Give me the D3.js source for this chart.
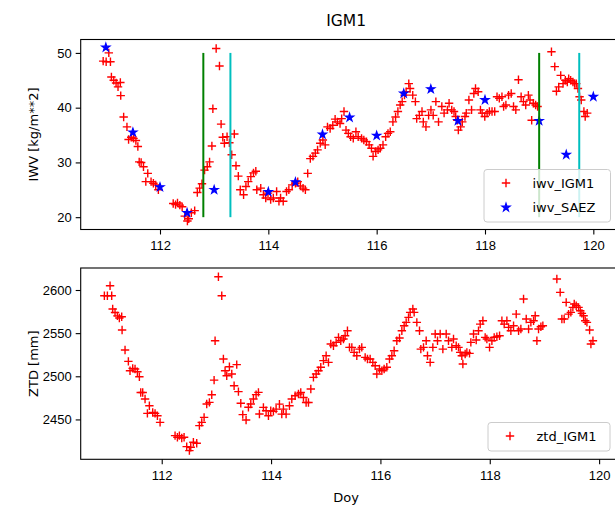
<!DOCTYPE html>
<html>
<head>
<meta charset="utf-8">
<script src="https://cdn.jsdelivr.net/npm/d3@7"></script>
<style>
  body { margin: 0; background: #fff; }
  svg { display: block; font-family: "DejaVu Sans", sans-serif; }
  .axis text { font-size: 13px; fill: #000; }
  .axis line { stroke: #000; stroke-width: 1.1; }
  .axis path { display: none; }
</style>
</head>
<body>
<div id="chart"></div>
<script>
/* DATA */
// IGM1 GNSS station: day of year, zenith total delay [mm], water vapour [kg/m**2]
const doyIGM = [
  110.951, 111.006, 111.055, 111.085, 111.103, 111.146, 111.189, 111.225, 111.268, 111.275,
  111.329, 111.39, 111.42, 111.469, 111.512, 111.555, 111.591, 111.616, 111.652, 111.695,
  111.738, 111.774, 111.835, 111.878, 111.921, 111.97,
  112.244, 112.287, 112.323, 112.366, 112.409, 112.457, 112.506, 112.531, 112.579, 112.64,
  112.689, 112.732, 112.775, 112.823, 112.872, 112.915, 112.958, 112.976, 113.037, 113.098,
  113.128, 113.159, 113.189, 113.238, 113.281, 113.324, 113.372, 113.403, 113.446, 113.482,
  113.543, 113.586, 113.629, 113.677, 113.726, 113.769, 113.787,
  113.86, 113.909, 113.952, 113.994, 114.043, 114.092, 114.153, 114.196, 114.226, 114.275,
  114.336, 114.379, 114.44, 114.501, 114.543, 114.592, 114.641, 114.684, 114.727, 114.775,
  114.824, 114.867, 114.909, 114.958, 115.007, 115.05, 115.092, 115.141, 115.19, 115.233,
  115.275, 115.324, 115.354, 115.397, 115.434, 115.477, 115.519, 115.568, 115.617, 115.659,
  115.721, 115.763, 115.812, 115.861, 115.904, 115.934, 115.983, 116.026, 116.068, 116.117,
  116.166, 116.209, 116.251, 116.3, 116.349, 116.392, 116.434, 116.471, 116.514, 116.544,
  116.593, 116.617, 116.666, 116.715, 116.739, 116.788, 116.837, 116.861, 116.91, 116.959,
  117.002, 117.044, 117.093, 117.142, 117.203, 117.245,
  117.306, 117.337, 117.386, 117.428, 117.459, 117.489, 117.508, 117.55, 117.581, 117.63,
  117.654, 117.703, 117.752, 117.794, 117.825, 117.874, 117.916, 117.947, 117.996, 118.039,
  118.081, 118.13, 118.179, 118.222, 118.264, 118.313, 118.344, 118.386, 118.435, 118.484,
  118.527, 118.569, 118.618, 118.667, 118.71, 118.752, 118.801, 118.831, 118.862, 118.892,
  118.935, 118.971,
  119.227, 119.288, 119.319, 119.361, 119.398, 119.441, 119.483, 119.52, 119.545, 119.581,
  119.624, 119.655, 119.685, 119.716, 119.746, 119.777, 119.826, 119.85, 119.887
];
const ztdIGM = [
  2593.4, 2593.4, 2605, 2593.4, 2578, 2574, 2570, 2567.5, 2569, 2553.6,
  2530.4, 2517.3, 2506.5, 2509.2, 2508.4, 2505.3, 2499.5, 2481.3, 2481.3, 2473.6,
  2457, 2465.8, 2458.1, 2457, 2454.3, 2446.6,
  2431.2, 2429.3, 2431.2, 2428.5, 2429.3, 2418.5, 2413.9, 2417.7, 2423.5, 2422.4,
  2442.8, 2446.6, 2452.4, 2467.9, 2469.8, 2478.6, 2495.6, 2541.2, 2615.4, 2593.4,
  2520, 2506.5, 2500.7, 2511.1, 2502.7, 2489.1, 2513.5, 2482.2, 2468.7, 2455.6,
  2449.4, 2464.1, 2467.9, 2473.7, 2478.7, 2481.4, 2456.3,
  2464, 2460.1, 2454.3, 2460.1, 2459.3, 2462, 2467.8, 2456.2, 2462, 2456.2,
  2465.9, 2473.6, 2477.5, 2479.4, 2481.3, 2475.5, 2469.7, 2469.7, 2485.2, 2498.7,
  2502.6, 2506.5, 2510.4, 2518.1, 2523.8, 2516.1, 2537.4, 2535.4, 2539.3, 2545.1,
  2541.2, 2543.2, 2547, 2552.8, 2533.5, 2533.5, 2527.7, 2523.8, 2531.5, 2533.5,
  2521.9, 2520, 2520, 2516.1, 2512.3, 2502.6, 2508.4, 2506.5, 2508.4, 2510.4,
  2520, 2523.8, 2529.6, 2541.2, 2544.3, 2552.8, 2558.6, 2562.5, 2568.3, 2574.1,
  2577.9, 2574.1, 2562.5, 2552.8, 2531.5, 2533.5, 2541.2, 2523.8, 2516.1, 2533.5,
  2549, 2541.2, 2549, 2531.5, 2549, 2541.2,
  2533.5, 2543.2, 2535.4, 2533.5, 2527.7, 2523.8, 2514.2, 2525.8, 2527.7, 2526.5,
  2539.3, 2549, 2542, 2552.8, 2560.5, 2564.4, 2545.1, 2543.2, 2533.5, 2541.2,
  2545.1, 2545.9, 2547, 2564.4, 2560.5, 2564.4, 2556.7, 2552.8, 2558.6, 2572.1,
  2552.8, 2554.8, 2589.6, 2566.4, 2554.8, 2562.5, 2564.4, 2570.2, 2541.2, 2554.8,
  2557.5, 2558.6,
  2612.7, 2597.2, 2566.4, 2566.4, 2585.7, 2572.1, 2574.1, 2579.9, 2583.7, 2581.8,
  2579.9, 2576, 2572.9, 2570.2, 2564.4, 2562.5, 2553.6, 2537.4, 2541.2
];
const iwvIGM = [
  48.5, 48.4, 50.0, 48.4, 45.6, 45.0, 44.5, 43.8, 44.6, 42.2,
  38.3, 36.5, 34.2, 34.6, 34.4, 34.0, 32.9, 30.1, 30.0, 29.2,
  26.5, 28.0, 26.5, 26.2, 25.9, 25.0,
  22.5, 22.3, 22.6, 22.2, 21.9, 20.2, 19.3, 19.7, 20.8, 21.2,
  24.5, 25.3, 26.1, 28.6, 29.2, 30.1, 33.0, 39.8, 50.8, 47.6,
  37.0, 34.6, 33.5, 34.7, 33.6, 31.4, 35.2, 29.4, 27.5, 25.0,
  24.1, 25.6, 26.5, 27.4, 28.1, 28.4, 25.0,
  25.3, 24.1, 23.5, 24.4, 23.2, 23.5, 24.7, 22.9, 23.5, 22.9,
  24.7, 25.0, 25.9, 26.2, 26.5, 25.7, 25.3, 25.0, 28.0, 30.7,
  31.1, 31.7, 32.3, 33.5, 34.1, 33.2, 36.5, 36.2, 36.8, 37.9,
  37.4, 37.1, 38.0, 39.3, 35.9, 35.3, 34.7, 34.4, 35.6, 34.7,
  34.4, 34.1, 33.8, 33.2, 32.6, 31.1, 32.0, 32.3, 32.6, 33.2,
  34.7, 35.3, 35.6, 37.4, 38.3, 39.3, 40.5, 41.1, 42.3, 42.9,
  44.4, 43.5, 42.3, 41.1, 38.0, 38.6, 39.3, 37.4, 36.5, 38.6,
  39.6, 38.6, 41.1, 37.4, 40.2, 39.0,
  39.6, 40.8, 39.6, 39.3, 38.4, 37.7, 35.9, 36.5, 37.4, 38.4,
  39.0, 41.4, 39.6, 42.6, 43.5, 42.9, 39.6, 39.0, 38.4, 39.0,
  39.3, 39.3, 39.3, 42.0, 41.7, 42.0, 40.2, 40.5, 42.3, 42.6,
  40.2, 39.6, 45.1, 42.0, 41.1, 40.5, 42.3, 41.4, 37.7, 40.8,
  40.5, 40.2,
  50.2, 47.5, 43.0, 43.8, 45.9, 44.4, 45.0, 44.7, 45.3, 45.0,
  44.7, 44.4, 44.4, 43.5, 42.0, 41.4, 39.3, 38.4, 39.0
];

// radiosonde SAEZ
const doySAEZ = [111.0, 111.5, 112.0, 112.5, 113.0, 114.0, 114.5, 115.0, 115.5, 116.0, 116.5, 117.0, 117.5, 118.0, 119.0, 119.5, 120.0];
const iwvSAEZ = [51.0, 35.5, 25.5, 20.8, 25.0, 24.6, 26.4, 35.1, 38.2, 34.9, 42.6, 43.4, 37.6, 41.4, 37.6, 31.4, 42.0];

// event markers (vertical lines from 20 to 50)
const eventDoy = [112.8, 113.3, 119.0, 119.74];
const eventColor = ["green", "#00bfbf", "green", "#00bfbf"];
const eventRange = [20, 50];

const xTicks = [112, 114, 116, 118, 120];
const iwvTicks = [20, 30, 40, 50];
const ztdTicks = [2450, 2500, 2550, 2600];

/* CONSTANTS */
const width = 615,
  height = 508,
  left = 80.7,
  right = 617.7;

const top1 = { y0: 39.5, y1: 229.5 };
const top2 = { y0: 268, y1: 459.3 };

const svg = d3.select("#chart")
  .append("svg")
  .attr("width", width)
  .attr("height", height);

const igm = doyIGM.map((d, i) => ({ doy: d, ztd: ztdIGM[i], iwv: iwvIGM[i] }));
const saez = doySAEZ.map((d, i) => ({ doy: d, iwv: iwvSAEZ[i] }));

// scales
const x1 = d3.scaleLinear().domain([110.536, 120.45]).range([left, right]);
const y1 = d3.scaleLinear().domain([17.75, 52.45]).range([top1.y1, top1.y0]);
const x2 = d3.scaleLinear().domain([110.518, 120.34]).range([left, right]);
const y2 = d3.scaleLinear().domain([2403.8, 2625.5]).range([top2.y1, top2.y0]);

const plusPath = "M-4.2,0H4.2M0,-4.2V4.2";
const star = d3.symbol(d3.symbolStar, 20);

function drawAxes(x, y, box, yTicks) {
  svg.append("g")
    .attr("class", "axis")
    .attr("transform", `translate(0,${box.y1})`)
    .call(d3.axisBottom(x).tickValues(xTicks).tickFormat(d3.format("d"))
      .tickSize(5).tickPadding(6).tickSizeOuter(0));

  svg.append("g")
    .attr("class", "axis")
    .attr("transform", `translate(${left},0)`)
    .call(d3.axisLeft(y).tickValues(yTicks).tickFormat(d3.format("d"))
      .tickSize(5).tickPadding(4).tickSizeOuter(0));
}

function drawFrame(box) {
  svg.append("rect")
    .attr("x", left)
    .attr("y", box.y0)
    .attr("width", right - left)
    .attr("height", box.y1 - box.y0)
    .attr("fill", "none")
    .attr("stroke", "#000")
    .attr("stroke-width", 1.1);
}

function legend(x, y, w, h, items) {
  const g = svg.append("g").attr("transform", `translate(${x},${y})`);
  g.append("rect")
    .attr("width", w)
    .attr("height", h)
    .attr("rx", 3)
    .attr("fill", "#fff")
    .attr("fill-opacity", 0.8)
    .attr("stroke", "#cccccc");
  items.forEach((it, i) => {
    const cy = 13.5 + i * 24;
    if (it.kind === "plus") {
      g.append("path").attr("d", plusPath).attr("transform", `translate(22,${cy})`)
        .attr("stroke", it.color).attr("stroke-width", 1.4).attr("fill", "none");
    } else {
      g.append("path").attr("d", star).attr("transform", `translate(22,${cy + 0.5})`)
        .attr("fill", it.color).attr("stroke", it.color).attr("stroke-width", 1.2);
    }
    g.append("text")
      .attr("x", 48.5)
      .attr("y", cy)
      .attr("dy", "0.36em")
      .attr("font-size", 13)
      .text(it.label);
  });
}

/* TOP PANEL: IWV */
drawAxes(x1, y1, top1, iwvTicks);

svg.append("g")
  .selectAll("path")
  .data(igm)
  .join("path")
  .attr("d", plusPath)
  .attr("transform", d => `translate(${x1(d.doy)},${y1(d.iwv)})`)
  .attr("stroke", "red")
  .attr("stroke-width", 1.4)
  .attr("fill", "none");

svg.append("g")
  .selectAll("path")
  .data(saez)
  .join("path")
  .attr("d", star)
  .attr("transform", d => `translate(${x1(d.doy)},${y1(d.iwv)})`)
  .attr("fill", "blue")
  .attr("stroke", "blue")
  .attr("stroke-width", 1.2);

svg.append("g")
  .selectAll("line")
  .data(eventDoy)
  .join("line")
  .attr("x1", d => x1(d))
  .attr("x2", d => x1(d))
  .attr("y1", y1(eventRange[0]))
  .attr("y2", y1(eventRange[1]))
  .attr("stroke", (d, i) => eventColor[i])
  .attr("stroke-width", 2);

drawFrame(top1);

legend(484, 169.5, 126.5, 52.5, [
  { kind: "plus", color: "red", label: "iwv_IGM1" },
  { kind: "star", color: "blue", label: "iwv_SAEZ" }
]);

/* BOTTOM PANEL: ZTD */
drawAxes(x2, y2, top2, ztdTicks);

svg.append("g")
  .selectAll("path")
  .data(igm)
  .join("path")
  .attr("d", plusPath)
  .attr("transform", d => `translate(${x2(d.doy)},${y2(d.ztd)})`)
  .attr("stroke", "red")
  .attr("stroke-width", 1.4)
  .attr("fill", "none");

drawFrame(top2);

legend(488, 422.5, 122, 28.5, [
  { kind: "plus", color: "red", label: "ztd_IGM1" }
]);

/* TEXT */
svg.append("text")
  .attr("x", (left + right) / 2 - 3)
  .attr("y", 26)
  .attr("text-anchor", "middle")
  .attr("font-size", 15.5)
  .text("IGM1");

svg.append("text")
  .attr("transform", `translate(38,${(top1.y0 + top1.y1) / 2}) rotate(-90)`)
  .attr("text-anchor", "middle")
  .attr("font-size", 13)
  .text("IWV [kg/m**2]");

svg.append("text")
  .attr("transform", `translate(38,${(top2.y0 + top2.y1) / 2}) rotate(-90)`)
  .attr("text-anchor", "middle")
  .attr("font-size", 13)
  .text("ZTD [mm]");

svg.append("text")
  .attr("x", (left + right) / 2 - 3)
  .attr("y", 502)
  .attr("text-anchor", "middle")
  .attr("font-size", 13)
  .text("Doy");
</script>
</body>
</html>
